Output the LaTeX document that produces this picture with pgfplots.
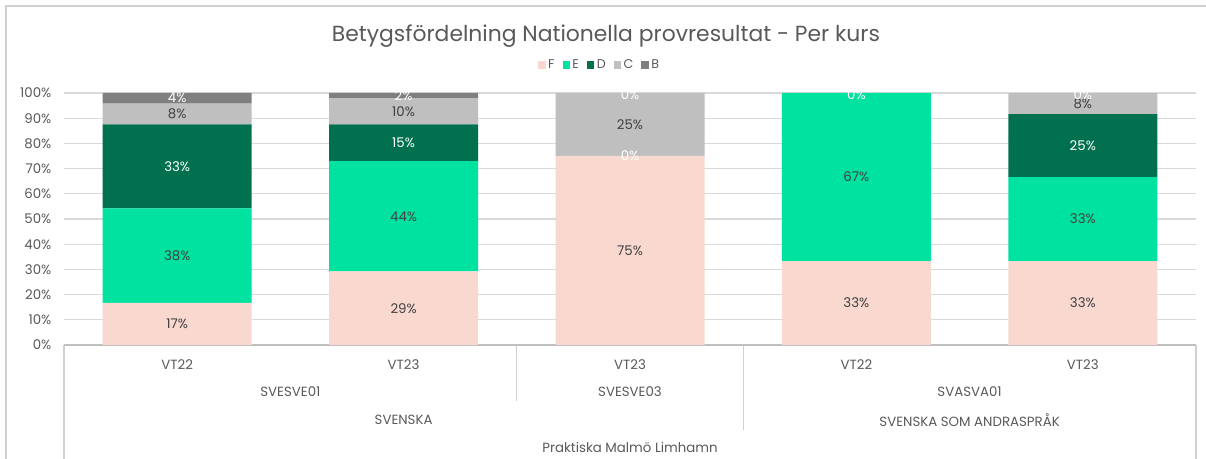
\documentclass[border=0pt]{standalone}
\usepackage{pgfplots}
\pgfplotsset{compat=1.18}
\usepackage{pgfplotstable}
\usepackage{fontspec}
\setmainfont{Poppins}
\definecolor{cF}{HTML}{F8D8CF}
\definecolor{cE}{HTML}{00E29F}
\definecolor{cD}{HTML}{00704F}
\definecolor{cC}{HTML}{BFBFBF}
\definecolor{cB}{HTML}{7F7F7F}
\definecolor{txt}{HTML}{595959}
\definecolor{dlab}{HTML}{404040}
\definecolor{gridc}{HTML}{D9D9D9}
\definecolor{framec}{HTML}{D0D0D0}

% grade shares (%) per bar: 0 SVESVE01 VT22, 1 SVESVE01 VT23, 2 SVESVE03 VT23, 3 SVASVA01 VT22, 4 SVASVA01 VT23
\pgfplotstableread{
x F E D C B
0 16.67 37.50 33.33 8.33 4.17
1 29.17 43.75 14.58 10.42 2.08
2 75.00 0.00 0.00 25.00 0.00
3 33.33 66.67 0.00 0.00 0.00
4 33.33 33.33 25.00 8.33 0.00
}\data
% data labels: position (middle of segment) and printed value
\pgfplotstableread{
x y lab
0 8.33 17
1 14.58 29
2 37.50 75
3 16.67 33
4 16.67 33
0 35.42 38
1 51.04 44
3 66.67 67
4 50.00 33
0 91.67 8
1 92.71 10
2 87.50 25
4 95.83 8
}\darklabels
\pgfplotstableread{
x y lab
0 70.83 33
1 80.21 15
2 75.00 0
4 79.17 25
0 97.92 4
1 98.96 2
2 99.20 0
3 99.20 0
4 99.20 0
}\whitelabels

\begin{document}
\begin{tikzpicture}[font=\fontsize{10}{12}\selectfont]
\useasboundingbox (-48pt,-85.5pt) rectangle (856.5pt,258.75pt);
\draw[framec, line width=0.8pt] (870pt,254.25pt) -- (-43.5pt,254.25pt) -- (-43.5pt,-100pt);
\node[text=txt, font=\fontsize{16.4}{19}\selectfont] at (406.5pt,232pt) {Betygsfördelning Nationella provresultat - Per kurs};
\pgfplotsset{
  common/.style={
    at={(0pt,0pt)}, anchor=south west,
    scale only axis, width=849pt, height=189pt,
    xmin=-0.5, xmax=4.5, ymin=0, ymax=100, clip=false,
    /pgf/number format/assume math mode=true,
  },
}
\begin{axis}[
  common,
  ybar stacked, bar width=111.75pt,
  axis line style={draw=none},
  ymajorgrids, grid style={draw=gridc, line width=0.8pt},
  ytick={0,10,...,100},
  yticklabel={\pgfmathprintnumber{\tick}\%},
  yticklabel style={text=txt, anchor=east, xshift=-6pt},
  xtick={0,...,4}, xticklabels={VT22,VT23,VT23,VT22,VT23},
  xticklabel style={text=txt, anchor=center, yshift=-15pt},
  tick style={draw=none},
  legend columns=-1,
  legend style={draw=none, fill=none, at={(0.4735,1.111)}, anchor=center,
    font=\fontsize{9.5}{11}\selectfont, text=txt,
    /tikz/every even column/.append style={column sep=4pt}},
  legend image code/.code={\fill[#1] (0pt,-2.7pt) rectangle (5.4pt,2.7pt);},
]
\addplot[fill=cF, draw=none] table[x=x,y=F] {\data};
\addplot[fill=cE, draw=none] table[x=x,y=E] {\data};
\addplot[fill=cD, draw=none] table[x=x,y=D] {\data};
\addplot[fill=cC, draw=none] table[x=x,y=C] {\data};
\addplot[fill=cB, draw=none] table[x=x,y=B] {\data};
\legend{F,E,D,C,B}
% category axis frame
\draw[cC, line width=0.8pt] (axis cs:-0.5,0) -- (axis cs:4.5,0);
\draw[framec, line width=0.8pt] (axis cs:-0.5,0) -- ++(0pt,-90pt);
\draw[framec, line width=0.8pt] (axis cs:4.5,0) -- ++(0pt,-90pt);
\draw[framec, line width=0.8pt] (axis cs:1.5,0) -- ++(0pt,-42pt);
\draw[framec, line width=0.8pt] (axis cs:2.5,0) -- ++(0pt,-63.75pt);
\node[text=txt] at ([yshift=-35.25pt]axis cs:0.5,0) {SVESVE01};
\node[text=txt] at ([yshift=-35.25pt]axis cs:2,0) {SVESVE03};
\node[text=txt] at ([yshift=-35.25pt]axis cs:3.5,0) {SVASVA01};
\node[text=txt] at ([yshift=-56.25pt]axis cs:1,0) {SVENSKA};
\node[text=txt] at ([yshift=-56.25pt]axis cs:3.5,0) {SVENSKA SOM ANDRASPRÅK};
\node[text=txt] at ([yshift=-76.5pt]axis cs:2,0) {Praktiska Malmö Limhamn};
\end{axis}
\begin{axis}[
  common, hide axis,
  point meta=explicit,
  nodes near coords={\pgfmathprintnumber{\pgfplotspointmeta}\%},
  every node near coord/.append style={anchor=center, font=\fontsize{10}{12}\selectfont},
]
\addplot[draw=none, mark=none, only marks, every node near coord/.append style={text=dlab}]
  table[x=x, y=y, meta=lab] {\darklabels};
\addplot[draw=none, mark=none, only marks, every node near coord/.append style={text=white}]
  table[x=x, y=y, meta=lab] {\whitelabels};
\end{axis}
\end{tikzpicture}
\end{document}
